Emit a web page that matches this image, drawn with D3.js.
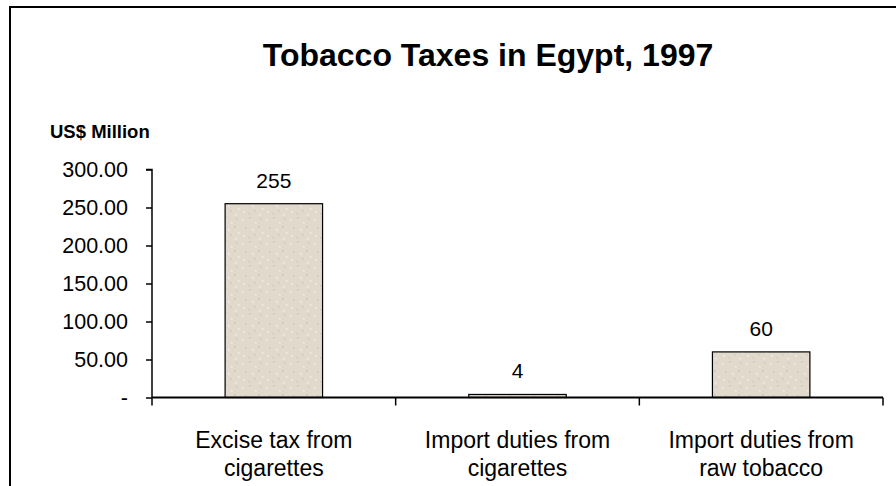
<!DOCTYPE html>
<html>
<head>
<meta charset="utf-8">
<script src="https://cdn.jsdelivr.net/npm/d3@7"></script>
<style>
  html, body { margin: 0; padding: 0; background: #fff; }
  svg { display: block; font-family: Arial, "Liberation Sans", sans-serif; }
</style>
</head>
<body>
<svg id="chart" width="896" height="486"></svg>
<script>
const categories = [
  ["Excise tax from", "cigarettes"],
  ["Import duties from", "cigarettes"],
  ["Import duties from", "raw tobacco"]
];
const values = [255, 4, 60];
const valueLabels = ["255", "4", "60"];
const yTicks = [0, 50, 100, 150, 200, 250, 300];
const yTickLabels = ["-", "50.00", "100.00", "150.00", "200.00", "250.00", "300.00"];
const title = "Tobacco Taxes in Egypt, 1997";
const yTitle = "US$ Million";

const svg = d3.select("#chart");

// frame (top and left edges visible)
svg.append("path")
  .attr("d", "M10,486 L10,7 L896,7")
  .attr("fill", "none").attr("stroke", "#000").attr("stroke-width", 2);

const x0 = 152, x1 = 883, yBase = 397.5, yTop = 169.5;
const x = d3.scaleBand().domain(d3.range(categories.length)).range([x0, x1]).paddingInner(0.6).paddingOuter(0.3);
const xb = d3.scaleBand().domain(d3.range(categories.length)).range([x0, x1]);
const y = d3.scaleLinear().domain([0, 300]).range([yBase, yTop]);

// texture pattern
const defs = svg.append("defs");
const pat = defs.append("pattern").attr("id", "tex").attr("patternUnits", "userSpaceOnUse")
  .attr("width", 24).attr("height", 24);
pat.append("rect").attr("width", 24).attr("height", 24).attr("fill", "#e0d9cc");
const specks = [[2,3,"#f4f0e8"],[9,1,"#cfc4b4"],[15,6,"#f4f0e8"],[20,2,"#d3c9ba"],[5,11,"#d0c6b6"],
  [12,13,"#f5f1ea"],[18,10,"#cdc3b3"],[22,16,"#f3efe7"],[3,19,"#f4f0e8"],[8,21,"#d2c8b9"],[14,18,"#cfc5b5"],[19,22,"#f4f0e9"]];
specks.forEach(s => pat.append("rect").attr("x", s[0]).attr("y", s[1]).attr("width", 1.5).attr("height", 1.5).attr("fill", s[2]));

// bars
svg.append("g").selectAll("rect").data(values).join("rect")
  .attr("x", (d, i) => x(i))
  .attr("width", x.bandwidth())
  .attr("y", d => y(d))
  .attr("height", d => y(0) - y(d))
  .attr("fill", "url(#tex)")
  .attr("stroke", "#000").attr("stroke-width", 1.2);

// value labels
svg.append("g").selectAll("text").data(values).join("text")
  .attr("x", (d, i) => x(i) + x.bandwidth() / 2)
  .attr("y", d => y(d) - 16)
  .attr("text-anchor", "middle")
  .attr("font-size", 21)
  .attr("fill", "#000")
  .text((d, i) => valueLabels[i]);

// y axis
const yAxis = d3.axisLeft(y).tickValues(yTicks).tickSize(6).tickPadding(18)
  .tickFormat((d, i) => yTickLabels[i]);
const gy = svg.append("g").attr("transform", `translate(${x0},0)`).call(yAxis);
gy.select(".domain").attr("stroke", "#000").attr("stroke-width", 1.5).attr("d", `M-6,${yTop}H0V${yBase}`);
gy.selectAll(".tick line").attr("stroke", "#000").attr("stroke-width", 1.5);
gy.selectAll(".tick text").attr("font-size", 21.5).attr("fill", "#000")
  .attr("font-family", "Arial, 'Liberation Sans', sans-serif");

// x axis
const gx = svg.append("g").attr("transform", `translate(0,${yBase})`);
gx.append("line").attr("x1", x0).attr("x2", x1).attr("y1", 0).attr("y2", 0)
  .attr("stroke", "#000").attr("stroke-width", 2);
const bounds = d3.range(categories.length).map(i => xb(i)).concat([x1]);
gx.selectAll("line.t").data(bounds).join("line").attr("class", "t")
  .attr("x1", d => d).attr("x2", d => d).attr("y1", 0).attr("y2", 8)
  .attr("stroke", "#000").attr("stroke-width", 1.5);

// category labels
const cl = svg.append("g").selectAll("text").data(categories).join("text")
  .attr("text-anchor", "middle")
  .attr("font-size", 23)
  .attr("fill", "#000");
cl.each(function(d, i) {
  const t = d3.select(this);
  const cx = xb(i) + xb.bandwidth() / 2;
  d.forEach((line, j) => {
    t.append("tspan").attr("x", cx).attr("y", 448 + j * 28).text(line);
  });
});

// title
svg.append("text").attr("x", 488).attr("y", 66).attr("text-anchor", "middle")
  .attr("font-size", 32).attr("font-weight", "bold").attr("fill", "#000").text(title);

// y title
svg.append("text").attr("x", 50).attr("y", 138)
  .attr("font-size", 18.5).attr("font-weight", "bold").attr("fill", "#000").text(yTitle);
</script>
</body>
</html>
